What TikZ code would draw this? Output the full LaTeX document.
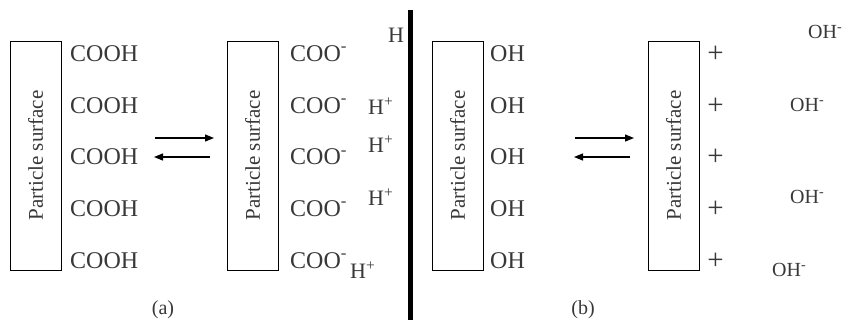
\documentclass[tikz,border=0pt]{standalone}
\usepackage{fontspec}
\setmainfont{Liberation Serif}
\usetikzlibrary{arrows.meta}
\begin{document}
\begin{tikzpicture}[x=1pt,y=-1pt]
\useasboundingbox (0,0) rectangle (845,322);
\colorlet{ink}{black!78}
\tikzset{
  surf/.style={draw=black, line width=0.9pt, minimum width=51pt, minimum height=229pt, inner sep=0pt,
    text=ink, font=\fontsize{21}{21}\selectfont},
  grp/.style={inner sep=0pt, anchor=base west, text=ink, font=\fontsize{24}{24}\selectfont},
  ion/.style={inner sep=0pt, anchor=base west, text=ink, font=\fontsize{22}{22}\selectfont},
  ohion/.style={inner sep=0pt, anchor=base west, text=ink, font=\fontsize{20}{20}\selectfont},
  plus/.style={inner sep=0pt, anchor=center, text=ink, font=\fontsize{29}{29}\selectfont},
  captext/.style={inner sep=0pt, text=ink, font=\fontsize{20}{20}\selectfont},
  eqarrow/.style={line width=1.2pt, -{Triangle[length=9pt,width=7pt]}}
}
% boxes
\node[surf] (s1) at (35.5,155.5) {\rotatebox{90}{Particle surface}};
\node[surf] (s2) at (252.5,155.5) {\rotatebox{90}{Particle surface}};
\node[surf] (s3) at (457.5,155.5) {\rotatebox{90}{Particle surface}};
\node[surf] (s4) at (673.5,155.5) {\rotatebox{90}{Particle surface}};
% surface groups
\foreach \y [count=\i] in {53,105,156.5,208,260}{
  \node[grp] (cooh\i) at (70,\y+8) {COOH};
  \node[grp] (coo\i) at (290,\y+8) {COO\textsuperscript{-}};
  \node[grp] (oh\i) at (490,\y+8) {OH};
  \node[plus] (p\i) at (715.5,\y+1) {+};
}
% H+ ions
\node[ion] (h0) at (388,35+7.3) {H};
\node[ion] (h1) at (368,107+7.3) {H\textsuperscript{+}};
\node[ion] (h2) at (368,145+7.3) {H\textsuperscript{+}};
\node[ion] (h3) at (368,198+7.3) {H\textsuperscript{+}};
\node[ion] (h4) at (350,271+7.3) {H\textsuperscript{+}};
% OH- ions
\node[ohion] (o1) at (808,32+6.6) {OH\textsuperscript{-}};
\node[ohion] (o2) at (790,105+6.6) {OH\textsuperscript{-}};
\node[ohion] (o3) at (790,197+6.6) {OH\textsuperscript{-}};
\node[ohion] (o4) at (772,270+6.6) {OH\textsuperscript{-}};
% divider
\coordinate (dtop) at (410,10);
\coordinate (dbot) at (410,320);
\draw[line width=5pt] (dtop) -- (dbot);
% equilibrium arrows
\coordinate (a1) at (155,138);
\coordinate (a2) at (214,138);
\coordinate (a3) at (210,157);
\coordinate (a4) at (154,157);
\draw[eqarrow] (a1) -- (a2);
\draw[eqarrow] (a3) -- (a4);
\coordinate (b1) at (575,138);
\coordinate (b2) at (634,138);
\coordinate (b3) at (630,157);
\coordinate (b4) at (574,157);
\draw[eqarrow] (b1) -- (b2);
\draw[eqarrow] (b3) -- (b4);
% captions
\node[captext] (capa) at (163,310) {(a)};
\node[captext] (capb) at (583,310) {(b)};
\end{tikzpicture}
\end{document}
